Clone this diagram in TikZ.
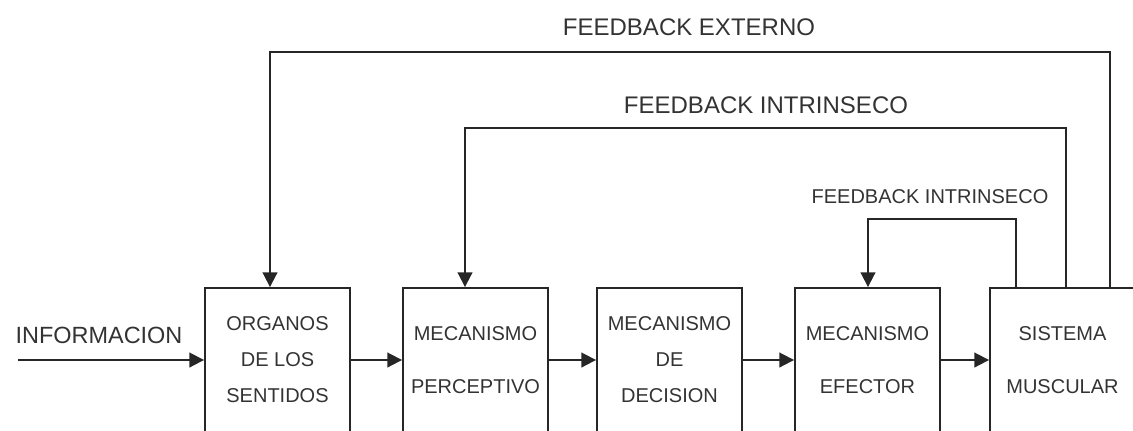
\documentclass[tikz,border=0pt]{standalone}
\usepackage{fontspec}
\setmainfont{Liberation Sans}
\usetikzlibrary{arrows.meta}
\begin{document}
\begin{tikzpicture}[x=0.75pt,y=-0.75pt,
  every node/.style={text=black!80},
  blk/.style={draw=black!85, line width=1.4pt, minimum width=108.75pt, minimum height=108pt, inner sep=0pt, align=center, font=\fontsize{15}{27}\selectfont},
  blkb/.style={blk, font=\fontsize{15}{40}\selectfont},
  con/.style={draw=black!85, line width=1.4pt, -{Triangle[length=11pt,width=11pt]}},
  lbl/.style={font=\fontsize{18}{20}\selectfont, inner sep=0pt},
  lbls/.style={font=\fontsize{15}{17}\selectfont, inner sep=0pt}]
\useasboundingbox (0,0) rectangle (1133,430);
\clip (0,0) rectangle (1133,430);
% blocks
\node[blk]  (s) at (277.5,360) {ORGANOS\\DE LOS\\SENTIDOS};
\node[blkb] (p) at (475.5,360) {MECANISMO\\PERCEPTIVO};
\node[blk]  (d) at (669.5,360) {MECANISMO\\DE\\DECISION};
\node[blkb] (e) at (867.5,360) {MECANISMO\\EFECTOR};
\node[blkb] (m) at (1062.5,360) {SISTEMA\\MUSCULAR};
% input
\node[lbl, font=\fontsize{17.6}{20}\selectfont] (info) at (99,335) {INFORMACION};
\coordinate (in) at (18,360);
\draw[con] (in) -- (s.west);
% forward chain
\draw[con] (s.east) -- (p.west);
\draw[con] (p.east) -- (d.west);
\draw[con] (d.east) -- (e.west);
\draw[con] (e.east) -- (m.west);
% feedback loops
\coordinate (ex1) at (1110,52);
\coordinate (ex2) at (270,52);
\draw[con] (m.north -| ex1) -- (ex1) -- (ex2) -- (s.north -| ex2);
\coordinate (in1) at (1066,128);
\coordinate (in2) at (465,128);
\draw[con] (m.north -| in1) -- (in1) -- (in2) -- (p.north -| in2);
\coordinate (sm1) at (1016,219);
\coordinate (sm2) at (868,219);
\draw[con] (m.north -| sm1) -- (sm1) -- (sm2) -- (e.north -| sm2);
% labels
\node[lbl]  (lx) at (689,27)  {FEEDBACK EXTERNO};
\node[lbl]  (li) at (766,105) {FEEDBACK INTRINSECO};
\node[lbls] (ls) at (930,197) {FEEDBACK INTRINSECO};
\end{tikzpicture}
\end{document}
